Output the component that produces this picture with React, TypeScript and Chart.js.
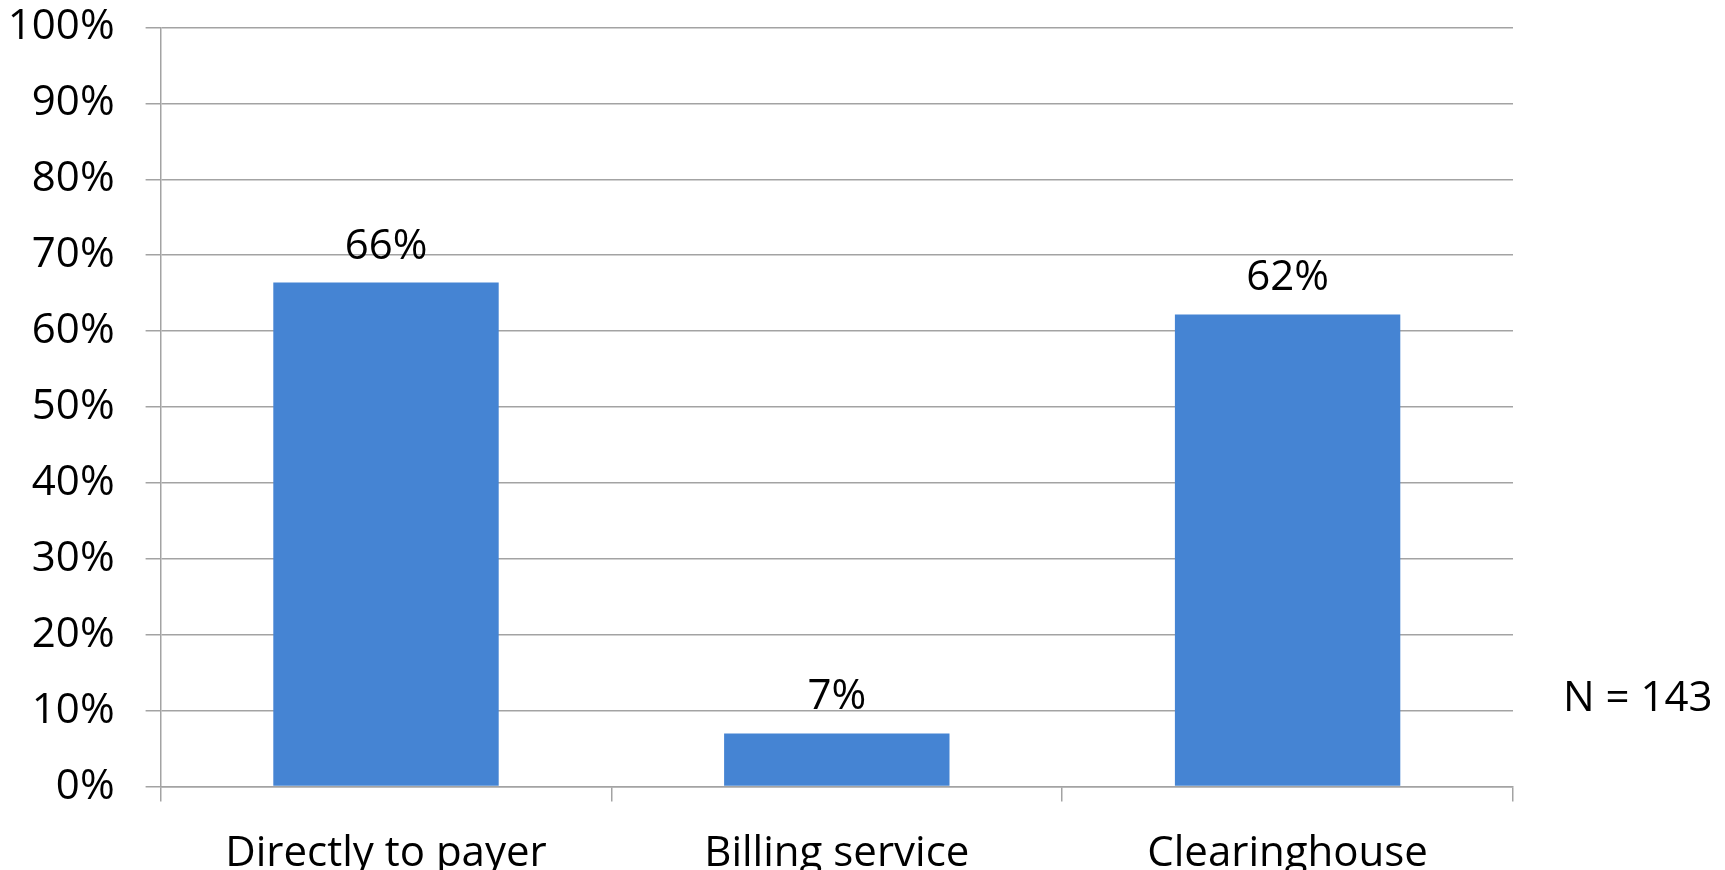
import React, { useEffect, useRef } from "react";
import { Chart, registerables } from "chart.js";

Chart.register(...registerables);

const categories = ["Directly to payer", "Billing service", "Clearinghouse"];
const values = [66.4, 7.0, 62.2];
const valueLabels = ["66%", "7%", "62%"];
const yMin = 0;
const yMax = 100;
const yStep = 10;
const sampleNote = "N = 143";

const FONT_FAMILY = "'Open Sans', 'Noto Sans', sans-serif";
const FONT_SIZE = 42;
const GRID_COLOR = "#a3a3a3";
const BAR_COLOR = "#4584d3";

const valueLabelPlugin = {
  id: "valueLabels",
  afterDatasetsDraw(chart: any) {
    const ctx = chart.ctx;
    const meta = chart.getDatasetMeta(0);
    ctx.save();
    ctx.font = `${FONT_SIZE}px ${FONT_FAMILY}`;
    ctx.fillStyle = "#000";
    ctx.textAlign = "center";
    ctx.textBaseline = "alphabetic";
    meta.data.forEach((bar: any, i: number) => {
      ctx.fillText(valueLabels[i], bar.x, bar.y - 24);
    });
    ctx.restore();
  },
};

const notePlugin = {
  id: "sampleNote",
  afterDraw(chart: any) {
    const ctx = chart.ctx;
    const area = chart.chartArea;
    ctx.save();
    ctx.font = `${FONT_SIZE}px ${FONT_FAMILY}`;
    ctx.fillStyle = "#000";
    ctx.textAlign = "left";
    ctx.textBaseline = "middle";
    ctx.fillText(sampleNote, area.right + 50, area.bottom - 88);
    ctx.restore();
  },
};

export default function App() {
  const canvasRef = useRef<HTMLCanvasElement | null>(null);

  useEffect(() => {
    if (!canvasRef.current) return;
    const chart = new Chart(canvasRef.current, {
      type: "bar",
      data: {
        labels: categories,
        datasets: [
          {
            data: values,
            backgroundColor: BAR_COLOR,
            borderWidth: 0,
            barPercentage: 0.5,
            categoryPercentage: 1,
          },
        ],
      },
      options: {
        animation: false,
        responsive: false,
        maintainAspectRatio: false,
        layout: { padding: { top: 27.5, right: 212, bottom: 0, left: 0 } },
        plugins: {
          legend: { display: false },
          tooltip: { enabled: false },
        },
        scales: {
          x: {
            offset: true,
            grid: {
              offset: true,
              drawOnChartArea: false,
              drawTicks: true,
              tickLength: 15,
              color: GRID_COLOR,
              lineWidth: 1.5,
            },
            border: { display: true, color: GRID_COLOR, width: 1.5 },
            ticks: {
              color: "#000",
              font: { family: FONT_FAMILY, size: FONT_SIZE },
              padding: 27,
              maxRotation: 0,
              autoSkip: false,
            },
            afterFit(scale: any) {
              scale.height = 83.4;
            },
          },
          y: {
            min: yMin,
            max: yMax,
            grid: {
              color: GRID_COLOR,
              lineWidth: 1.5,
              tickLength: 15,
            },
            border: { display: true, color: GRID_COLOR, width: 1.5 },
            ticks: {
              stepSize: yStep,
              color: "#000",
              font: { family: FONT_FAMILY, size: FONT_SIZE },
              padding: 31,
              callback: (v: any) => `${v}%`,
            },
            afterFit(scale: any) {
              scale.width = 160.6;
              scale.paddingTop = 0;
              scale.paddingBottom = 0;
            },
          },
        },
      },
      plugins: [valueLabelPlugin, notePlugin],
    });
    return () => chart.destroy();
  }, []);

  return (
    <div
      style={{
        position: "fixed",
        left: 0,
        top: 0,
        width: "1725px",
        height: "870px",
        background: "#fff",
      }}
    >
      <canvas
        ref={canvasRef}
        width={1725}
        height={870}
        style={{ width: "1725px", height: "870px", display: "block" }}
      />
    </div>
  );
}
